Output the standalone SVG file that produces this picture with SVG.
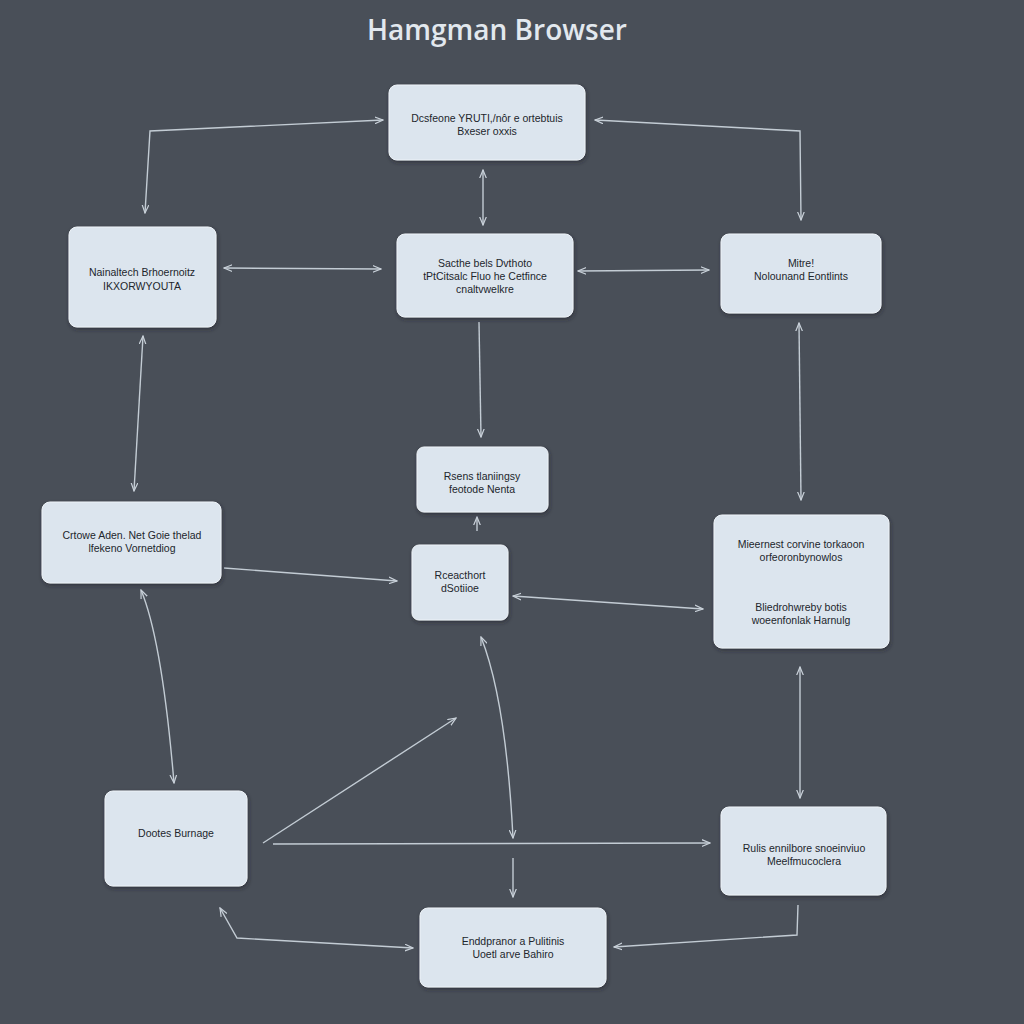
<svg xmlns="http://www.w3.org/2000/svg" width="1024" height="1024" viewBox="0 0 1024 1024">
<defs>
<marker id="ah" viewBox="0 0 12 10" refX="11" refY="5" markerWidth="9" markerHeight="8" orient="auto-start-reverse" markerUnits="userSpaceOnUse">
<path d="M0,0.5 L11,5 L0,9.5" fill="none" stroke="#c9d1d9" stroke-width="1.6"/>
</marker>
<filter id="sh" x="-10%" y="-10%" width="130%" height="140%">
<feDropShadow dx="1" dy="2" stdDeviation="2" flood-color="#1e2228" flood-opacity="0.55"/>
</filter>
</defs>
<style>
.bg{fill:#494f58}
.box{fill:#dce5ee;stroke:#eef3f8;stroke-width:1;filter:url(#sh)}
.t{font-family:"Liberation Sans",Arial,sans-serif;font-size:10.5px;fill:#22262c;text-anchor:middle}
.c{fill:none;stroke:#c3ccd4;stroke-width:1.4}
.title{font-family:"Open Sans","Liberation Sans",sans-serif;font-size:28px;font-weight:600;fill:#e2e8ee;text-anchor:middle}
</style>
<rect class="bg" x="0" y="0" width="1024" height="1024"/>
<text class="title" x="497" y="40">Hamgman Browser</text>

<g id="connectors">
<polyline class="c" points="145,213 150,131 383,120" marker-start="url(#ah)" marker-end="url(#ah)"/>
<polyline class="c" points="595,120 800,131 801,220" marker-start="url(#ah)" marker-end="url(#ah)"/>
<line class="c" x1="483" y1="170" x2="483" y2="225" marker-start="url(#ah)" marker-end="url(#ah)"/>
<line class="c" x1="224" y1="268" x2="381" y2="269" marker-start="url(#ah)" marker-end="url(#ah)"/>
<line class="c" x1="578" y1="271" x2="709" y2="270" marker-start="url(#ah)" marker-end="url(#ah)"/>
<line class="c" x1="479" y1="322" x2="481" y2="437" marker-end="url(#ah)"/>
<line class="c" x1="799" y1="323" x2="801" y2="500" marker-start="url(#ah)" marker-end="url(#ah)"/>
<line class="c" x1="143" y1="336" x2="134" y2="491" marker-start="url(#ah)" marker-end="url(#ah)"/>
<line class="c" x1="477" y1="531" x2="477" y2="517" marker-end="url(#ah)"/>
<line class="c" x1="224" y1="568" x2="397" y2="581" marker-end="url(#ah)"/>
<line class="c" x1="513" y1="596" x2="703" y2="609" marker-start="url(#ah)" marker-end="url(#ah)"/>
<path class="c" d="M141,590 Q162,640 174,783" marker-start="url(#ah)" marker-end="url(#ah)"/>
<path class="c" d="M481,637 Q506,700 513,838" marker-start="url(#ah)" marker-end="url(#ah)"/>
<line class="c" x1="800" y1="667" x2="800" y2="798" marker-start="url(#ah)" marker-end="url(#ah)"/>
<line class="c" x1="263" y1="843" x2="456" y2="718" marker-end="url(#ah)"/>
<line class="c" x1="273" y1="844" x2="710" y2="843" marker-end="url(#ah)"/>
<line class="c" x1="513" y1="858" x2="513" y2="897" marker-end="url(#ah)"/>
<polyline class="c" points="220,908 237,938 413,948" marker-start="url(#ah)" marker-end="url(#ah)"/>
<polyline class="c" points="798,905 797,935 614,947" marker-end="url(#ah)"/>
</g>

<g id="n1"><rect class="box" x="389" y="85" width="196" height="75" rx="8"/>
<text class="t" x="487" y="122">Dcsfeone YRUTI,/nôr e ortebtuis</text>
<text class="t" x="487" y="135">Bxeser oxxis</text></g>

<g id="n2"><rect class="box" x="69" y="227" width="147" height="100" rx="8"/>
<text class="t" x="142" y="276">Nainaltech Brhoernoitz</text>
<text class="t" x="142" y="290">IKXORWYOUTA</text></g>

<g id="n3"><rect class="box" x="397" y="234" width="176" height="83" rx="8"/>
<text class="t" x="485" y="267">Sacthe bels Dvthoto</text>
<text class="t" x="485" y="280">tPtCitsalc Fluo he Cetfince</text>
<text class="t" x="485" y="293">cnaltvwelkre</text></g>

<g id="n4"><rect class="box" x="721" y="234" width="160" height="79" rx="8"/>
<text class="t" x="801" y="267">Mitre!</text>
<text class="t" x="801" y="280">Nolounand Eontlints</text></g>

<g id="n5"><rect class="box" x="417" y="447" width="131" height="65" rx="7"/>
<text class="t" x="482" y="480">Rsens tlaniingsy</text>
<text class="t" x="482" y="493">feotode Nenta</text></g>

<g id="n6"><rect class="box" x="412" y="545" width="96" height="75" rx="7"/>
<text class="t" x="460" y="579">Rceacthort</text>
<text class="t" x="460" y="592">dSotiioe</text></g>

<g id="n7"><rect class="box" x="42" y="502" width="179" height="81" rx="8"/>
<text class="t" x="132" y="539">Crtowe Aden. Net Goie thelad</text>
<text class="t" x="132" y="552">lfekeno Vornetdiog</text></g>

<g id="n8"><rect class="box" x="714" y="515" width="175" height="133" rx="8"/>
<text class="t" x="801" y="548">Mieernest corvine torkaoon</text>
<text class="t" x="801" y="561">orfeoronbynowlos</text>
<text class="t" x="801" y="611">Bliedrohwreby botis</text>
<text class="t" x="801" y="624">woeenfonlak Harnulg</text></g>

<g id="n9"><rect class="box" x="105" y="791" width="142" height="95" rx="8"/>
<text class="t" x="176" y="837">Dootes Burnage</text></g>

<g id="n10"><rect class="box" x="721" y="807" width="165" height="88" rx="8"/>
<text class="t" x="804" y="852">Rulis ennilbore snoeinviuo</text>
<text class="t" x="804" y="865">Meelfmucoclera</text></g>

<g id="n11"><rect class="box" x="420" y="908" width="186" height="79" rx="8"/>
<text class="t" x="513" y="945">Enddpranor a Pulitinis</text>
<text class="t" x="513" y="958">Uoetl arve Bahiro</text></g>
</svg>
